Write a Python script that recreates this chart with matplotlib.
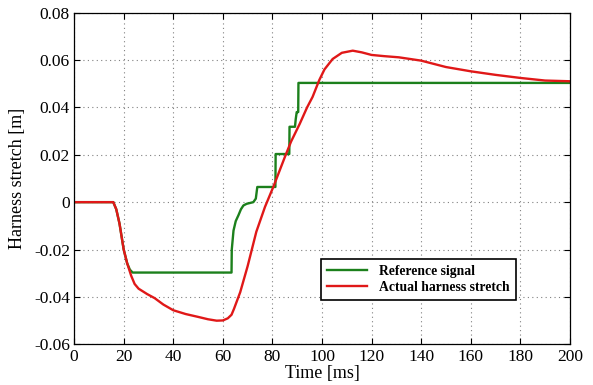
import matplotlib
matplotlib.use("Agg")
import matplotlib.pyplot as plt
from matplotlib.ticker import FuncFormatter

# Reference signal (time ms, stretch m)
ref_t = [0, 15.8, 17.0, 18.3, 20.0, 21.4, 22.5, 23.6, 63.5, 63.6, 64.3, 65.2, 66.3,
         67.3, 68.3, 69.6, 72.3, 73.3, 73.9, 81.2, 81.3, 86.8, 86.9, 89.1, 89.4,
         89.8, 90.4, 90.5, 200]
ref_v = [0, 0, -0.003, -0.009, -0.020, -0.0258, -0.0285, -0.0297, -0.0297, -0.020,
         -0.012, -0.008, -0.0055, -0.003, -0.0014, -0.0007, 0.0, 0.0015, 0.0064,
         0.0064, 0.0203, 0.0203, 0.0318, 0.0318, 0.035, 0.038, 0.038, 0.0503, 0.0503]

# Actual harness stretch
act_t = [0, 15.8, 17.0, 18.3, 20.0, 21.4, 23.0, 24.4, 26.0, 29.5, 32.5, 36, 40, 45,
         50, 54, 57.5, 60, 62, 63.5, 64.5, 67, 70, 73.5, 77, 80.5, 85, 87.5, 91,
         94, 96.2, 98.9, 101, 104.3, 108, 112.4, 116, 120, 125, 131, 140, 150,
         160, 170, 180, 190, 200]
act_v = [0, 0, -0.003, -0.009, -0.020, -0.0258, -0.031, -0.0345, -0.0365, -0.0388,
         -0.0405, -0.0432, -0.0456, -0.0472, -0.0484, -0.0494, -0.0500, -0.0499,
         -0.0490, -0.0475, -0.0450, -0.0380, -0.0270, -0.0125, -0.0020, 0.0068,
         0.0190, 0.0255, 0.0330, 0.0400, 0.0444, 0.0515, 0.0560, 0.0604, 0.0630,
         0.0639, 0.0632, 0.0621, 0.0616, 0.0611, 0.0597, 0.0570, 0.0552, 0.0537,
         0.0524, 0.0513, 0.0510]

x_ticks = list(range(0, 201, 20))
y_ticks = [-0.06, -0.04, -0.02, 0, 0.02, 0.04, 0.06, 0.08]

plt.rcParams['font.family'] = ['Liberation Serif', 'DejaVu Serif']

fig = plt.figure(figsize=(5.93, 3.85), dpi=100)
ax = fig.add_axes([0.125, 0.1055, 0.836, 0.862])

ax.plot(ref_t, ref_v, color='#1c801c', lw=1.7, label='Reference signal')
ax.plot(act_t, act_v, color='#e01818', lw=1.7, label='Actual harness stretch')

ax.set_xlim(0, 200)
ax.set_ylim(-0.06, 0.08)
ax.set_xticks(x_ticks)
ax.set_yticks(y_ticks)

def yfmt(v, pos):
    if abs(v) < 1e-12:
        return '0'
    return ('%.2f' % v)
ax.yaxis.set_major_formatter(FuncFormatter(yfmt))

ax.tick_params(direction='in', top=True, right=True, length=4, width=0.8,
               labelsize=12.5, pad=3)
for s in ax.spines.values():
    s.set_linewidth(0.9)
    s.set_color('black')

ax.grid(True, linestyle=(0, (1, 3)), color='#808080', lw=0.8)

ax.set_xlabel('Time [ms]', fontsize=13, labelpad=0)
ax.set_ylabel('Harness stretch [m]', fontsize=13, labelpad=6)

leg = ax.legend(loc='lower left', bbox_to_anchor=(0.498, 0.134), borderaxespad=0,
                prop={'weight': 'bold', 'size': 9.8}, fancybox=False,
                frameon=True, handlelength=2.9, handletextpad=0.9,
                borderpad=0.45, labelspacing=0.2)
leg.get_frame().set_edgecolor('black')
leg.get_frame().set_linewidth(1.2)
leg.get_frame().set_alpha(1.0)

fig.savefig('out.png', dpi=100)
